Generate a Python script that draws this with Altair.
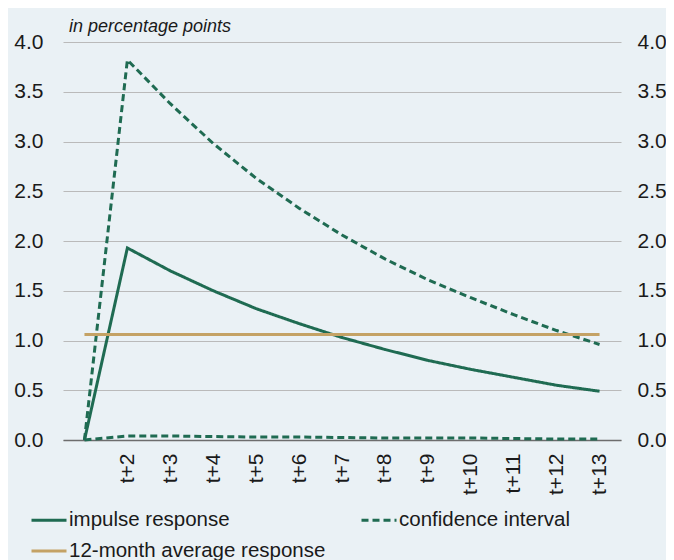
import altair as alt
import pandas as pd

periods = ["t+1", "t+2", "t+3", "t+4", "t+5", "t+6", "t+7", "t+8", "t+9", "t+10", "t+11", "t+12", "t+13"]
impulse = [0.0, 1.93, 1.70, 1.50, 1.32, 1.17, 1.03, 0.91, 0.80, 0.71, 0.63, 0.55, 0.49]
ci_upper = [0.0, 3.82, 3.38, 2.98, 2.63, 2.33, 2.06, 1.82, 1.61, 1.43, 1.26, 1.10, 0.96]
ci_lower = [0.0, 0.04, 0.04, 0.035, 0.03, 0.03, 0.025, 0.02, 0.02, 0.02, 0.015, 0.01, 0.01]
avg_response = [1.06, 1.06, 1.06, 1.06, 1.06, 1.06, 1.06, 1.06, 1.06, 1.06, 1.06, 1.06, 1.06]

# legend fills column by column: col 1 = impulse, 12-month; col 2 = confidence interval
series_names = ["impulse response", "12-month average response", "confidence interval"]
series_colors = ["#1f6b52", "#c4a265", "#1f6b52"]
series_dashes = [[1, 0], [1, 0], [7, 4]]
y_ticks = [0.0, 0.5, 1.0, 1.5, 2.0, 2.5, 3.0, 3.5, 4.0]

rows = []
for p, a, b, c, d in zip(periods, impulse, ci_upper, ci_lower, avg_response):
    rows.append({"period": p, "value": a, "series": "impulse response", "line": "impulse"})
    rows.append({"period": p, "value": b, "series": "confidence interval", "line": "upper"})
    rows.append({"period": p, "value": c, "series": "confidence interval", "line": "lower"})
    rows.append({"period": p, "value": d, "series": "12-month average response", "line": "avg"})
df = pd.DataFrame(rows)

FONT = "Liberation Sans"
TXT = "#1a1a1a"

legend = alt.Legend(
    title=None, orient="none", legendX=-33, legendY=459, columns=2,
    symbolType="stroke", symbolSize=1225, symbolStrokeWidth=3,
    labelFontSize=20.5, labelFont=FONT, labelColor=TXT, labelOffset=1,
    columnPadding=29, rowPadding=1, labelLimit=400,
)

color = alt.Color("series:N", scale=alt.Scale(domain=series_names, range=series_colors), legend=legend)
dash = alt.StrokeDash("series:N", scale=alt.Scale(domain=series_names, range=series_dashes), legend=legend)

x = alt.X(
    "period:N", sort=periods,
    scale=alt.Scale(type="point", padding=0.5),
    axis=alt.Axis(
        title=None, labelAngle=270, labelAlign="right", labelBaseline="middle",
        labelPadding=13, ticks=False, grid=False, domainColor="#6d6d6d", domainWidth=1.5,
        labelExpr="datum.label == 't+1' ? '' : datum.label",
        labelFontSize=21, labelFont=FONT, labelColor=TXT, labelOverlap=False,
    ),
)

y_left = alt.Y(
    "value:Q", scale=alt.Scale(domain=[0, 4], nice=False),
    axis=alt.Axis(
        title=None, values=y_ticks, format=".1f", orient="left", domain=False, ticks=False,
        labelPadding=20, gridColor="#bababa", gridWidth=1.2, labelFontSize=21,
        labelFont=FONT, labelColor=TXT,
    ),
)
y_right = alt.Y(
    "value:Q", scale=alt.Scale(domain=[0, 4], nice=False),
    axis=alt.Axis(
        title=None, values=y_ticks, format=".1f", orient="right", domain=False, ticks=False,
        grid=False, labelPadding=16, labelFontSize=21, labelFont=FONT, labelColor=TXT,
    ),
)

base = alt.Chart(df)
ci = base.transform_filter("datum.series == 'confidence interval'").mark_line(strokeWidth=3).encode(
    x=x, y=y_left, color=color, strokeDash=dash, detail="line:N")
imp = base.transform_filter("datum.series == 'impulse response'").mark_line(strokeWidth=3).encode(
    x=x, y=y_left, color=color, strokeDash=dash, detail="line:N")
avg = base.transform_filter("datum.series == '12-month average response'").mark_line(strokeWidth=3).encode(
    x=x, y=y_right, color=color, strokeDash=dash, detail="line:N")

chart = alt.layer(alt.layer(ci, imp), avg).resolve_scale(y="independent").properties(
    width=558, height=398,
    title=alt.TitleParams(
        "in percentage points", anchor="start", frame="group", fontStyle="italic",
        fontWeight="normal", fontSize=18, font=FONT, color=TXT, dx=6, dy=29, offset=10,
        baseline="alphabetic",
    ),
    autosize=alt.AutoSizeParams(type="none"),
    padding={"left": 55, "top": 34, "right": 45, "bottom": 120},
    background="#eaf1f5",
).configure_view(stroke=None)

chart.save("out.html", embed_options={"renderer": "svg", "actions": False})
